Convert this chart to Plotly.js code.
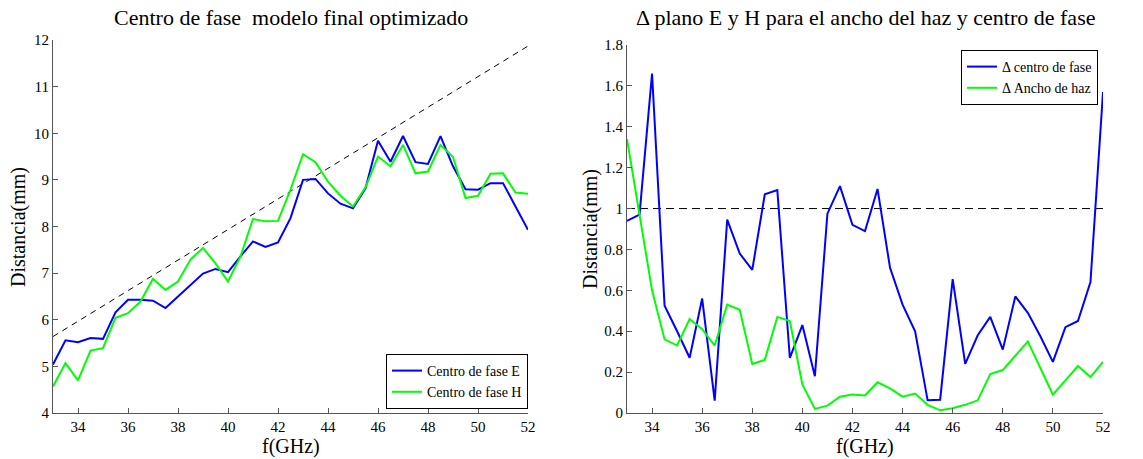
<!DOCTYPE html>
<html>
<head>
<meta charset="utf-8">
<script src="https://cdn.plot.ly/plotly-3.0.1.min.js"></script>
<style>html,body{margin:0;padding:0;background:#fff;}#chart{width:1143px;height:459px;}</style>
</head>
<body>
<div id="chart"></div>
<script>
// Frequencies (GHz)
const freq = [33,33.5,34,34.5,35,35.5,36,36.5,37,37.5,38,38.5,39,39.5,40,40.5,41,41.5,42,42.5,43,43.5,44,44.5,45,45.5,46,46.5,47,47.5,48,48.5,49,49.5,50,50.5,51,51.5,52];

// Left plot: phase centre (mm)
const centroE = [5.04,5.56,5.52,5.61,5.59,6.16,6.43,6.43,6.41,6.25,6.50,6.74,6.99,7.09,7.02,7.36,7.68,7.56,7.66,8.18,9.00,9.02,8.71,8.49,8.39,8.82,9.84,9.39,9.94,9.38,9.34,9.94,9.29,8.80,8.79,8.93,8.93,8.43,7.93];
const centroH = [4.57,5.07,4.70,5.34,5.39,6.04,6.14,6.39,6.88,6.64,6.82,7.29,7.54,7.21,6.82,7.36,8.16,8.11,8.12,8.79,9.55,9.38,8.96,8.66,8.43,8.84,9.50,9.29,9.75,9.14,9.18,9.75,9.49,8.61,8.66,9.13,9.14,8.73,8.70];
const refLineX = [33,52];
const refLineY = [5.64,11.87];

// Right plot: deltas
const deltaCentro = [0.94,0.97,1.66,0.525,0.40,0.27,0.56,0.06,0.946,0.78,0.70,1.07,1.09,0.27,0.43,0.18,0.975,1.11,0.92,0.89,1.096,0.71,0.53,0.40,0.062,0.065,0.655,0.24,0.38,0.47,0.31,0.57,0.49,0.375,0.25,0.42,0.45,0.64,1.57];
const deltaAncho = [1.34,0.96,0.60,0.36,0.33,0.46,0.41,0.33,0.53,0.505,0.24,0.26,0.47,0.45,0.14,0.02,0.036,0.08,0.09,0.086,0.15,0.12,0.08,0.095,0.04,0.013,0.023,0.04,0.062,0.19,0.21,0.28,0.35,0.22,0.09,0.16,0.23,0.176,0.25];
const limitX = [33,52];
const limitY = [1,1];

const xTicks = [34,36,38,40,42,44,46,48,50,52];
const yTicksLeft = [4,5,6,7,8,9,10,11,12];
const yTicksRight = [0,0.2,0.4,0.6,0.8,1,1.2,1.4,1.6,1.8];
const yTickTextRight = ['0','0.2','0.4','0.6','0.8','1','1.2','1.4','1.6','1.8'];

const W = 1143, H = 459;
const FONT = 'Liberation Serif, Times New Roman, DejaVu Serif, serif';
const axisCol = '#555555';

const traces = [
  {x: refLineX, y: refLineY, xaxis:'x', yaxis:'y', mode:'lines', line:{color:'#000', width:1, dash:'6px,5px'}, showlegend:false, hoverinfo:'skip'},
  {x: freq, y: centroE, xaxis:'x', yaxis:'y', mode:'lines', name:'Centro de fase E', line:{color:'#0000ff', width:2}, legend:'legend'},
  {x: freq, y: centroH, xaxis:'x', yaxis:'y', mode:'lines', name:'Centro de fase H', line:{color:'#00ff00', width:2}, legend:'legend'},
  {x: limitX, y: limitY, xaxis:'x2', yaxis:'y2', mode:'lines', line:{color:'#000', width:1, dash:'8px,5px'}, showlegend:false, hoverinfo:'skip'},
  {x: freq, y: deltaCentro, xaxis:'x2', yaxis:'y2', mode:'lines', name:'\u0394 centro de fase', line:{color:'#0000ff', width:2}, legend:'legend2'},
  {x: freq, y: deltaAncho, xaxis:'x2', yaxis:'y2', mode:'lines', name:'\u0394 Ancho de haz', line:{color:'#00ff00', width:2}, legend:'legend2'}
];

function xax(domain, anchor){
  return {domain: domain, anchor: anchor, range:[33,52], tickmode:'array', tickvals:xTicks,
    showline:true, linecolor:axisCol, linewidth:1, mirror:false, ticks:'inside', ticklen:5, tickcolor:axisCol,
    showgrid:false, zeroline:false, tickfont:{family:FONT, size:15, color:'#000'}};
}
function yax(domain, anchor, range, vals, text){
  const a = {domain: domain, anchor: anchor, range: range, tickmode:'array', tickvals: vals,
    showline:true, linecolor:axisCol, linewidth:1, mirror:false, ticks:'inside', ticklen:5, tickcolor:axisCol,
    showgrid:false, zeroline:false, tickfont:{family:FONT, size:15, color:'#000'}};
  if (text) a.ticktext = text;
  return a;
}

const layout = {
  width: W, height: H,
  margin: {l:0, r:0, t:0, b:0},
  paper_bgcolor:'#fff', plot_bgcolor:'#fff',
  font: {family: FONT, color:'#000'},
  xaxis: xax([53/W, 528/W], 'y'),
  yaxis: yax([1-413/H, 1-40/H], 'x', [4,12], yTicksLeft),
  xaxis2: xax([627/W, 1103/W], 'y2'),
  yaxis2: yax([1-413/H, 1-45/H], 'x2', [0,1.8], yTicksRight, yTickTextRight),
  legend: {x: 528/W, xanchor:'right', y: 1-409/H, yanchor:'bottom', bgcolor:'#fff', bordercolor:'#000', borderwidth:1,
    font:{family:FONT, size:14, color:'#000'}, tracegroupgap:0, itemwidth:30},
  legend2: {x: 1098/W, xanchor:'right', y: 1-50/H, yanchor:'top', bgcolor:'#fff', bordercolor:'#000', borderwidth:1,
    font:{family:FONT, size:14, color:'#000'}, tracegroupgap:0, itemwidth:30},
  annotations: [
    {text:'Centro de fase&nbsp; modelo final optimizado', xref:'paper', yref:'paper', x:(53+528)/2/W, y:1-18/H, xanchor:'center', yanchor:'middle', showarrow:false, font:{family:FONT, size:22, color:'#000'}},
    {text:'\u0394 plano E y H para el ancho del haz y centro de fase', xref:'paper', yref:'paper', x:(627+1103)/2/W, y:1-18/H, xanchor:'center', yanchor:'middle', showarrow:false, font:{family:FONT, size:22, color:'#000'}},
    {text:'f(GHz)', xref:'paper', yref:'paper', x:(53+528)/2/W, y:1-446/H, xanchor:'center', yanchor:'middle', showarrow:false, font:{family:FONT, size:20, color:'#000'}},
    {text:'f(GHz)', xref:'paper', yref:'paper', x:(627+1103)/2/W, y:1-446/H, xanchor:'center', yanchor:'middle', showarrow:false, font:{family:FONT, size:20, color:'#000'}},
    {text:'Distancia(mm)', xref:'paper', yref:'paper', x:18/W, y:1-227/H, xanchor:'center', yanchor:'middle', textangle:-90, showarrow:false, font:{family:FONT, size:20, color:'#000'}},
    {text:'Distancia(mm)', xref:'paper', yref:'paper', x:591/W, y:1-229/H, xanchor:'center', yanchor:'middle', textangle:-90, showarrow:false, font:{family:FONT, size:20, color:'#000'}}
  ]
};

Plotly.newPlot('chart', traces, layout, {displayModeBar:false, staticPlot:true});
</script>
</body>
</html>
